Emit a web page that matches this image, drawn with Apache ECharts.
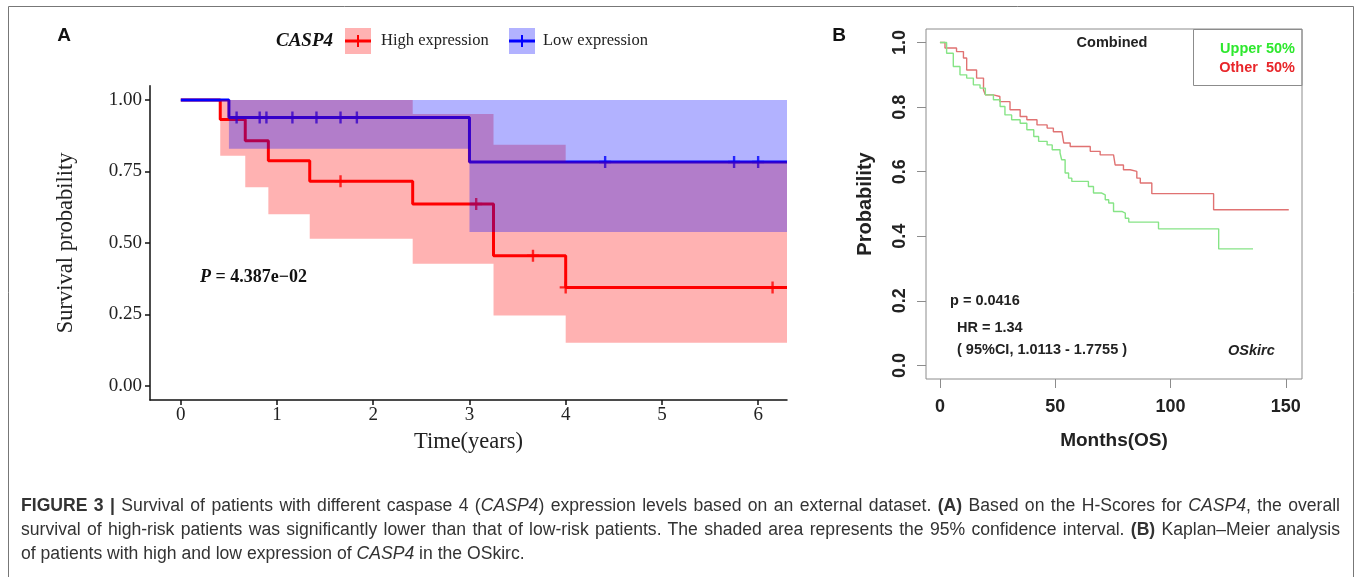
<!DOCTYPE html>
<html>
<head>
<meta charset="utf-8">
<script src="https://cdn.jsdelivr.net/npm/echarts@6/dist/echarts.min.js"></script>
<style>
  html, body { margin: 0; padding: 0; background: #fff; }
  #wrap { position: relative; width: 1360px; height: 577px; overflow: hidden; }
  #chart { position: absolute; left: 0; top: 0; width: 1360px; height: 577px; }
  .cap {
    position: absolute; left: 21px; width: 1319px; height: 24px; line-height: 24px;
    font-family: 'Liberation Sans', Arial, sans-serif; font-size: 17.6px; color: #333;
    white-space: nowrap;
  }
  .just { text-align: justify; text-align-last: justify; }
</style>
</head>
<body>
<div id="wrap">
  <div id="chart"></div>
  <div class="cap just" style="top:493px"><span><b>FIGURE 3 |</b> Survival of patients with different caspase 4 (<i>CASP4</i>) expression levels based on an external dataset. <b>(A)</b> Based on the H-Scores for <i>CASP4</i>, the overall</span></div>
  <div class="cap just" style="top:517px"><span>survival of high-risk patients was significantly lower than that of low-risk patients. The shaded area represents the 95% confidence interval. <b>(B)</b> Kaplan–Meier analysis</span></div>
  <div class="cap" style="top:541px"><span>of patients with high and low expression of <i>CASP4</i> in the OSkirc.</span></div>
</div>
<script>
// panel A: CASP4 survival (years)
const highTime = [0, 0.41, 0.67, 0.91, 1.34, 2.41, 3.25, 4.0, 6.3];
const highSurv = [1, 0.932, 0.857, 0.787, 0.716, 0.636, 0.455, 0.344, 0.344];
const lowTime = [0, 0.5, 3.0, 6.3];
const lowSurv = [1, 0.939, 0.783, 0.783];

// 95% CI ribbons (step intervals)
const highCiTime = [0.41, 0.67, 0.91, 1.34, 2.41, 3.25, 4.0, 6.3];
const highCiUpper = [1, 1, 1, 1, 0.951, 0.843, 0.785];
const highCiLower = [0.805, 0.695, 0.60, 0.514, 0.427, 0.246, 0.15];
const lowCiTime = [0.5, 3.0, 6.3];
const lowCiUpper = [1, 1];
const lowCiLower = [0.829, 0.538];

// censored times
const highCensor = [1.66, 3.07, 3.66, 4.0, 6.15];
const lowCensor = [0.58, 0.82, 0.89, 1.16, 1.41, 1.66, 1.83, 4.41, 5.75, 6.0];

const yearTicks = [0, 1, 2, 3, 4, 5, 6];
const probTicksA = [0, 0.25, 0.5, 0.75, 1];

// panel B: OSkirc (months)
const upperMonths = [0, 2.9, 5.8, 8.7, 11.6, 14.5, 17.4, 19.7, 23.2, 26.1, 28.2, 31.1, 34.8, 37.7, 40.7, 42.8, 46.5, 48.7, 52.1, 52.8, 54.3, 55.8, 57.2, 64.4, 66.6, 70.2, 71.7, 73.2, 75.3, 78.9, 80.4, 81.9, 94.8, 120.9, 135.8];
const upperProb = [1, 0.967, 0.926, 0.900, 0.890, 0.869, 0.859, 0.838, 0.823, 0.802, 0.776, 0.761, 0.750, 0.730, 0.709, 0.694, 0.683, 0.668, 0.658, 0.637, 0.596, 0.580, 0.570, 0.554, 0.534, 0.528, 0.513, 0.503, 0.477, 0.472, 0.456, 0.444, 0.423, 0.361, 0.361];
const otherMonths = [0, 2.2, 7.2, 10.2, 11.6, 15.9, 18.9, 19.7, 23.2, 26, 30.4, 34.8, 37.7, 42.1, 46.5, 49.2, 52.9, 53.7, 56.5, 65.2, 69.5, 75.3, 76, 79.6, 82.5, 85.4, 86.9, 91.9, 118.7, 151.3];
const otherProb = [1, 0.983, 0.972, 0.952, 0.915, 0.890, 0.853, 0.838, 0.833, 0.817, 0.792, 0.771, 0.761, 0.745, 0.735, 0.724, 0.720, 0.689, 0.678, 0.663, 0.652, 0.647, 0.621, 0.606, 0.601, 0.580, 0.565, 0.532, 0.482, 0.482];

const monthTicks = [0, 50, 100, 150];
const probTicksB = [0, 0.2, 0.4, 0.6, 0.8, 1.0];

const serif = "'Liberation Serif', 'Times New Roman', serif";
const sans = "'Liberation Sans', Arial, sans-serif";

// squeeze caption lines that are too wide for the box
document.querySelectorAll('.cap span').forEach(function (sp) {
  const over = sp.offsetWidth - 1319;
  if (over > 0) sp.parentNode.style.letterSpacing = (-over / sp.textContent.length - 0.02) + 'px';
});

function zip(a, b) { return a.map((v, i) => [v, b[i]]); }
function survAt(times, surv, t) {
  let s = surv[0];
  for (let i = 0; i < times.length; i++) if (times[i] <= t) s = surv[i];
  return s;
}
function ribbon(times, lower, upper, color) {
  return {
    type: 'custom', xAxisIndex: 0, yAxisIndex: 0, z: 5, silent: true,
    data: [[times[0], lower[0]]],
    renderItem: function (params, api) {
      const pts = [];
      for (let i = 0; i < upper.length; i++) {
        pts.push(api.coord([times[i], upper[i]]));
        pts.push(api.coord([times[i + 1], upper[i]]));
      }
      for (let i = lower.length - 1; i >= 0; i--) {
        pts.push(api.coord([times[i + 1], lower[i]]));
        pts.push(api.coord([times[i], lower[i]]));
      }
      return { type: 'polygon', shape: { points: pts }, style: { fill: color } };
    }
  };
}
const plus = 'path://M4,0h2v4h4v2h-4v4h-2v-4h-4v-2h4z';

const chart = echarts.init(document.getElementById('chart'));
chart.setOption({
  animation: false,
  grid: [
    { left: 150, top: 85.7, width: 637, height: 314.3 },
    { left: 926, top: 29, width: 376, height: 350, show: true, borderColor: '#8c8c8c', borderWidth: 1 }
  ],
  xAxis: [
    {
      type: 'value', gridIndex: 0, min: -0.32, max: 6.3,
      name: 'Time(years)', nameLocation: 'middle', nameGap: 31,
      nameTextStyle: { fontFamily: serif, fontSize: 22.5, color: '#222' },
      axisLine: { onZero: false, lineStyle: { color: '#111', width: 1.5 } },
      axisTick: { length: 5, lineStyle: { color: '#111', width: 1.5 }, customValues: yearTicks },
      axisLabel: { customValues: yearTicks, fontFamily: serif, fontSize: 19, color: '#222', margin: 6 },
      splitLine: { show: false }
    },
    {
      type: 'value', gridIndex: 1, min: -6.04, max: 157.04,
      name: 'Months(OS)', nameLocation: 'middle', nameGap: 52,
      nameTextStyle: { fontFamily: sans, fontWeight: 'bold', fontSize: 19, color: '#222' },
      axisLine: { show: false, onZero: false },
      axisTick: { length: 9, lineStyle: { color: '#8c8c8c' }, customValues: monthTicks },
      axisLabel: { customValues: monthTicks, fontFamily: sans, fontWeight: 'bold', fontSize: 18, color: '#222', margin: 19 },
      splitLine: { show: false }
    }
  ],
  yAxis: [
    {
      type: 'value', gridIndex: 0, min: -0.05, max: 1.05,
      name: 'Survival probability', nameLocation: 'middle', nameGap: 72,
      nameTextStyle: { fontFamily: serif, fontSize: 22.5, color: '#222' },
      axisLine: { show: true, onZero: false, lineStyle: { color: '#111', width: 1.5 } },
      axisTick: { show: true, length: 5, lineStyle: { color: '#111', width: 1.5 }, customValues: probTicksA },
      axisLabel: { customValues: probTicksA, formatter: v => v.toFixed(2), fontFamily: serif, fontSize: 19, color: '#222', margin: 8 },
      splitLine: { show: false }
    },
    {
      type: 'value', gridIndex: 1, min: -0.042, max: 1.042,
      name: 'Probability', nameLocation: 'middle', nameGap: 51,
      nameTextStyle: { fontFamily: sans, fontWeight: 'bold', fontSize: 20, color: '#222' },
      axisLine: { show: false, onZero: false },
      axisTick: { show: true, length: 9, lineStyle: { color: '#8c8c8c' }, customValues: probTicksB },
      axisLabel: { customValues: probTicksB, rotate: 90, formatter: v => v.toFixed(1), fontFamily: sans, fontWeight: 'bold', fontSize: 18, color: '#222', margin: 17 },
      splitLine: { show: false }
    }
  ],
  series: [
    {
      type: 'line', xAxisIndex: 0, yAxisIndex: 0, step: 'end', symbol: 'none', z: 2,
      data: zip(highTime, highSurv), lineStyle: { color: '#ff0000', width: 3 }
    },
    {
      type: 'line', xAxisIndex: 0, yAxisIndex: 0, step: 'end', symbol: 'none', z: 3,
      data: zip(lowTime, lowSurv), lineStyle: { color: '#0000ff', width: 3 }
    },
    {
      type: 'scatter', xAxisIndex: 0, yAxisIndex: 0, symbol: plus, symbolSize: 12, z: 4,
      itemStyle: { color: '#ff0000' },
      data: highCensor.map(t => [t, survAt(highTime, highSurv, t)])
    },
    {
      type: 'scatter', xAxisIndex: 0, yAxisIndex: 0, symbol: plus, symbolSize: 12, z: 4,
      itemStyle: { color: '#0000ff' },
      data: lowCensor.map(t => [t, survAt(lowTime, lowSurv, t)])
    },
    ribbon(highCiTime, highCiLower, highCiUpper, 'rgba(255,0,0,0.3)'),
    ribbon(lowCiTime, lowCiLower, lowCiUpper, 'rgba(0,0,255,0.3)'),
    {
      type: 'line', xAxisIndex: 1, yAxisIndex: 1, step: 'end', symbol: 'none',
      data: zip(otherMonths, otherProb), lineStyle: { color: '#e07272', width: 1.4 }
    },
    {
      type: 'line', xAxisIndex: 1, yAxisIndex: 1, step: 'end', symbol: 'none',
      data: zip(upperMonths, upperProb), lineStyle: { color: '#86e486', width: 1.4 }
    }
  ],
  graphic: [
    { type: 'rect', shape: { x: 8.5, y: 6.5, width: 1345, height: 600 }, style: { fill: null, stroke: '#777', lineWidth: 1 }, silent: true },
    { type: 'text', x: 64, y: 36, style: { text: 'A', font: 'bold 19px ' + sans, fill: '#111', align: 'center', verticalAlign: 'middle' } },
    { type: 'text', x: 839, y: 36, style: { text: 'B', font: 'bold 19px ' + sans, fill: '#111', align: 'center', verticalAlign: 'middle' } },
    // legend A
    { type: 'text', x: 333, y: 41, style: { text: 'CASP4', font: 'italic bold 19px ' + serif, fill: '#111', align: 'right', verticalAlign: 'middle' } },
    { type: 'rect', shape: { x: 345, y: 28, width: 26, height: 26 }, style: { fill: 'rgba(255,0,0,0.3)' } },
    { type: 'line', shape: { x1: 345, y1: 41, x2: 371, y2: 41 }, style: { stroke: '#ff0000', lineWidth: 3 } },
    { type: 'line', shape: { x1: 358, y1: 35, x2: 358, y2: 47 }, style: { stroke: '#ff0000', lineWidth: 2 } },
    { type: 'text', x: 381, y: 41, style: { text: 'High expression', font: '16.5px ' + serif, fill: '#222', verticalAlign: 'middle' } },
    { type: 'rect', shape: { x: 509, y: 28, width: 26, height: 26 }, style: { fill: 'rgba(0,0,255,0.3)' } },
    { type: 'line', shape: { x1: 509, y1: 41, x2: 535, y2: 41 }, style: { stroke: '#0000ff', lineWidth: 3 } },
    { type: 'line', shape: { x1: 522, y1: 35, x2: 522, y2: 47 }, style: { stroke: '#0000ff', lineWidth: 2 } },
    { type: 'text', x: 543, y: 41, style: { text: 'Low expression', font: '16.5px ' + serif, fill: '#222', verticalAlign: 'middle' } },
    {
      type: 'text', x: 200, y: 277,
      style: {
        text: '{i|P} = 4.387e\u221202', verticalAlign: 'middle',
        font: 'bold 18px ' + serif, fill: '#111',
        rich: { i: { fontStyle: 'italic', fontWeight: 'bold', fontSize: 18, fontFamily: serif } }
      }
    },
    // panel B texts
    { type: 'text', x: 1112, y: 43, style: { text: 'Combined', font: 'bold 14.5px ' + sans, fill: '#222', align: 'center', verticalAlign: 'middle' } },
    { type: 'rect', shape: { x: 1193.5, y: 29.5, width: 108.5, height: 56 }, style: { fill: null, stroke: '#8c8c8c', lineWidth: 1 } },
    { type: 'text', x: 1295, y: 49, style: { text: 'Upper 50%', font: 'bold 14.5px ' + sans, fill: '#2ee82e', align: 'right', verticalAlign: 'middle' } },
    { type: 'text', x: 1295, y: 68, style: { text: 'Other  50%', font: 'bold 14.5px ' + sans, fill: '#e8262a', align: 'right', verticalAlign: 'middle' } },
    { type: 'text', x: 950, y: 301, style: { text: 'p = 0.0416', font: 'bold 14.5px ' + sans, fill: '#222', verticalAlign: 'middle' } },
    { type: 'text', x: 957, y: 328, style: { text: 'HR = 1.34', font: 'bold 14.5px ' + sans, fill: '#222', verticalAlign: 'middle' } },
    { type: 'text', x: 957, y: 350, style: { text: '( 95%CI, 1.0113 - 1.7755 )', font: 'bold 14.5px ' + sans, fill: '#222', verticalAlign: 'middle' } },
    { type: 'text', x: 1228, y: 351, style: { text: 'OSkirc', font: 'italic bold 14.5px ' + sans, fill: '#222', verticalAlign: 'middle' } }
  ]
});
</script>
</body>
</html>
